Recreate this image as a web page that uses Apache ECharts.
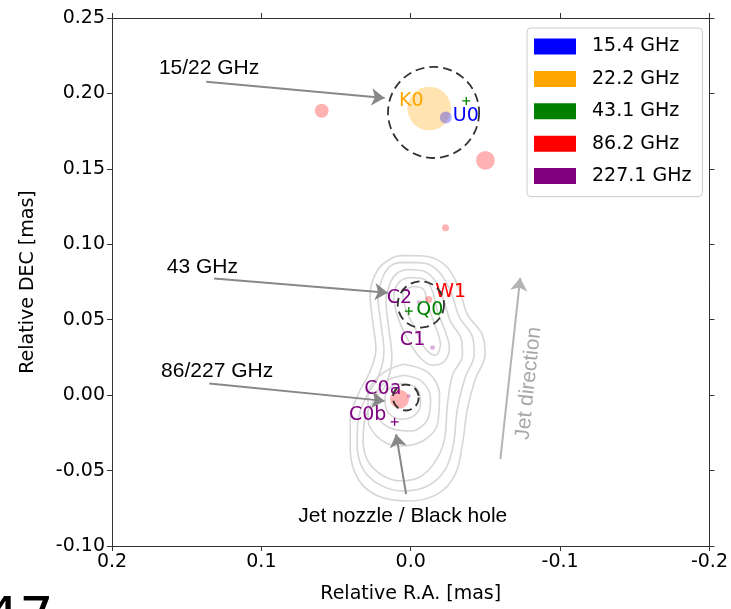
<!DOCTYPE html>
<html><head><meta charset="utf-8">
<script src="https://cdn.jsdelivr.net/npm/echarts@6/dist/echarts.min.js"></script>
<style>html,body{margin:0;padding:0;background:#fff}#c{width:731px;height:609px}</style>
</head><body><div id="c"></div>
<script>
// ---------------- data ----------------
const xTickLabels = ['0.2', '0.1', '0.0', '-0.1', '-0.2'];
const yTickLabels = ['-0.10', '-0.05', '0.00', '0.05', '0.10', '0.15', '0.20', '0.25'];

const freqNames = ['15.4 GHz', '22.2 GHz', '43.1 GHz', '86.2 GHz', '227.1 GHz'];
const freqColors = ['#0000ff', '#ffa500', '#008000', '#ff0000', '#800080'];

// [RA (mas), DEC (mas), component diameter (mas)]
const comp15 = [[-0.0235, 0.184, 0.008]];
const comp15Names = ['U0'];
const comp22 = [[-0.0124, 0.190, 0.0292]];
const comp22Names = ['K0'];
const comp43 = [[-0.0372, 0.195], [0.0013, 0.0557]];
const comp43Names = ['', 'Q0'];
const comp86 = [[0.0596, 0.1885, 0.0093], [-0.050, 0.1556, 0.0126], [-0.0233, 0.111, 0.0047], [-0.012, 0.0634, 0.0047], [0.0075, -0.0027, 0.0126]];
const comp86Names = ['', '', '', 'W1', ''];
const comp227 = [[-0.0058, 0.0613, 0.0033], [-0.0146, 0.0315, 0.0033], [0.0013, -0.0005, 0.0027]];
const comp227Names = ['C2', 'C1', 'C0a'];
const comp227Plus = [[0.0108, -0.0177]];
const comp227PlusNames = ['C0b'];

// dashed regions: [RA, DEC, diameter (mas)]
const regions = [[-0.0153, 0.1874, 0.061], [-0.0068, 0.0601, 0.031], [0.0033, -0.0016, 0.0173]];

// annotations
const annotTexts = ['15/22 GHz', '43 GHz', '86/227 GHz', 'Jet nozzle / Black hole'];
const annotAt = [[0.135, 0.2164], [0.1395, 0.0846], [0.1296, 0.0158], [0.0053, -0.0801]];
const annotArrows = [
  [[0.1369, 0.2077], [0.0175, 0.1969]],
  [[0.1316, 0.0773], [0.0153, 0.0679]],
  [[0.1349, 0.0077], [0.0175, -0.0038]],
  [[0.0031, -0.0656], [0.0098, -0.0259]]
];
const jetText = 'Jet direction';
const jetTextAt = [-0.079, 0.0079];
const jetArrow = [[-0.060, -0.0424], [-0.0733, 0.0778]];
const cornerText = '47';

// contour lines (RA, DEC in mas)
const contourA = [[0.005,0.0926],[-0.0113,0.0919],[-0.0246,0.0846],[-0.0326,0.070],[-0.0379,0.0535],[-0.0478,0.0403],[-0.0498,0.0270],[-0.0432,0.0105],[-0.0379,-0.0094],[-0.0346,-0.0325],[-0.0299,-0.0523],[-0.0179,-0.0656],[0.002,-0.0702],[0.0219,-0.0669],[0.0352,-0.0556],[0.0405,-0.0357],[0.0405,-0.0159],[0.0352,0.0006],[0.0272,0.0158],[0.0233,0.0304],[0.0252,0.0469],[0.0272,0.0668],[0.0219,0.0833],[0.012,0.0912],[0.005,0.0926]];
const contourB = [[0.004,0.0880],[-0.010,0.0873],[-0.0199,0.0807],[-0.0272,0.0675],[-0.0326,0.0515],[-0.0412,0.039],[-0.0425,0.027],[-0.0365,0.0119],[-0.0312,-0.0092],[-0.0286,-0.0324],[-0.0233,-0.049],[-0.0113,-0.0602],[0.0053,-0.0635],[0.0206,-0.0595],[0.0319,-0.049],[0.0359,-0.0324],[0.0352,-0.0158],[0.0299,-0.0014],[0.0219,0.0119],[0.0179,0.029],[0.0199,0.047],[0.0219,0.0648],[0.0179,0.080],[0.012,0.0866],[0.004,0.0880]];
const contourC = [[0.002,0.0833],[-0.0093,0.082],[-0.0166,0.0754],[-0.0219,0.0635],[-0.0266,0.0489],[-0.0339,0.037],[-0.0346,0.0264],[-0.0279,0.0132],[-0.0246,-0.006],[-0.0226,-0.0291],[-0.0166,-0.0437],[-0.006,-0.0543],[0.0066,-0.0569],[0.0193,-0.0529],[0.0286,-0.0437],[0.0319,-0.0304],[0.0306,-0.0158],[0.0252,-0.0040],[0.0166,0.0072],[0.0126,0.0251],[0.0146,0.0436],[0.0166,0.0621],[0.0133,0.0753],[0.0086,0.0813],[0.002,0.0833]];
const contourUp1 = [[0.0007,0.0780],[-0.0093,0.0767],[-0.0146,0.0688],[-0.0179,0.0555],[-0.0226,0.0436],[-0.0259,0.0317],[-0.0226,0.0225],[-0.0146,0.0198],[-0.006,0.0251],[0.002,0.037],[0.0086,0.0516],[0.0113,0.0661],[0.0073,0.0754],[0.0007,0.0780]];
const contourUp2 = [[-0.0013,0.0720],[-0.0086,0.0701],[-0.0113,0.0601],[-0.016,0.0469],[-0.0199,0.0337],[-0.0166,0.0264],[-0.01,0.0304],[-0.0033,0.0436],[0.0033,0.0568],[0.0053,0.0675],[-0.0013,0.0720]];
const contourLo1 = [[0.0053,0.0205],[-0.0113,0.0152],[-0.0193,0.0006],[-0.0179,-0.0192],[-0.008,-0.0304],[0.0066,-0.0337],[0.0206,-0.0291],[0.0286,-0.0158],[0.0286,0.0006],[0.0199,0.0138],[0.0053,0.0205]];
const contourLo2 = [[0.0047,0.0132],[-0.0073,0.0092],[-0.0133,-0.0027],[-0.0113,-0.016],[-0.0007,-0.0238],[0.012,-0.0225],[0.0219,-0.0146],[0.0233,-0.0014],[0.0166,0.0092],[0.0047,0.0132]];
const contourLo3 = [[0.0053,0.0079],[-0.004,0.0046],[-0.0066,-0.0047],[-0.0027,-0.0133],[0.0066,-0.016],[0.0153,-0.0113],[0.0173,-0.002],[0.0133,0.0053],[0.0053,0.0079]];
const contours = [contourA, contourB, contourC, contourUp1, contourUp2, contourLo1, contourLo2, contourLo3];

// ---------------- styles ----------------
const labelOffsets = { U0: [20, -2], K0: [-18, -7], Q0: [21, -1], W1: [22, -7], C2: [-20, -5], C1: [-20, -7.5], C0a: [-26, -7], C0b: [-27, -7] };
const FONT = 'DejaVu Sans';
const AFONT = 'Liberation Sans';
let pxPerMas = 1505;

function fmt(list, i) { return list[i]; }

function compItems(arr, names, color, extra) {
  return arr.map((v, i) => {
    const it = { value: v, name: names[i] || '' };
    if (names[i]) {
      it.label = { show: true, position: 'inside', formatter: '{b}', offset: labelOffsets[names[i]], color: color,
        fontFamily: FONT, fontSize: 19, opacity: 1 };
    }
    return Object.assign(it, extra || {});
  });
}

const plusPath = 'path://M5,0 L5,10 M0,5 L10,5';

function buildOption() {
  const series = [];
  contours.forEach((c, i) => {
    series.push({ type: 'line', data: c, smooth: 0.35, symbol: 'none', silent: true, z: 1,
      lineStyle: { color: '#d6d6d6', width: 1.6 }, animation: false });
  });
  const sizeFn = v => v[2] * pxPerMas;
  series.push({ name: '22.2 GHz', type: 'scatter', z: 2, symbolSize: sizeFn, silent: true,
    itemStyle: { color: 'rgba(255,165,0,0.3)', opacity: 1 }, data: compItems(comp22, comp22Names, freqColors[1]) });
  series.push({ name: '86.2 GHz', type: 'scatter', z: 3, symbolSize: sizeFn, silent: true,
    itemStyle: { color: 'rgba(255,0,0,0.3)', opacity: 1 }, data: compItems(comp86, comp86Names, freqColors[3]) });
  series.push({ name: '15.4 GHz', type: 'scatter', z: 4, symbolSize: sizeFn, silent: true,
    itemStyle: { color: 'rgba(0,0,255,0.3)', opacity: 1 }, data: compItems(comp15, comp15Names, freqColors[0]) });
  series.push({ name: '227.1 GHz', type: 'scatter', z: 5, symbolSize: sizeFn, silent: true,
    itemStyle: { color: 'rgba(128,0,128,0.3)', opacity: 1 },
    data: compItems(comp227, comp227Names, freqColors[4]).concat(
      compItems(comp227Plus, comp227PlusNames, freqColors[4], { symbol: plusPath, symbolSize: 8,
        itemStyle: { color: 'none', borderColor: freqColors[4], borderWidth: 1.3, opacity: 1 } })) });
  series.push({ name: '43.1 GHz', type: 'scatter', z: 6, symbol: plusPath, symbolSize: 8, silent: true,
    itemStyle: { color: 'none', borderColor: freqColors[2], borderWidth: 1.3, opacity: 1 },
    data: compItems(comp43, comp43Names, freqColors[2]) });
  series.push({ type: 'scatter', z: 7, silent: true, symbol: 'circle', symbolSize: sizeFn,
    itemStyle: { color: 'rgba(0,0,0,0)', borderColor: '#333', borderWidth: 1.8, borderType: [9, 5], opacity: 1 },
    data: regions });
  series.push({ type: 'lines', coordinateSystem: 'cartesian2d', z: 8, silent: true,
    symbol: ['none', 'arrow'], symbolSize: [9, 13],
    lineStyle: { color: '#888', width: 2, opacity: 1, curveness: 0 },
    data: annotArrows.map(a => ({ coords: a })) });
  series.push({ type: 'lines', coordinateSystem: 'cartesian2d', z: 8, silent: true,
    symbol: ['none', 'arrow'], symbolSize: [9, 13],
    lineStyle: { color: '#b4b4b4', width: 2, opacity: 1, curveness: 0 },
    data: [{ coords: jetArrow }] });
  series.push({ type: 'scatter', z: 9, silent: true, symbolSize: 0, itemStyle: { opacity: 1 },
    label: { show: true, position: 'inside', formatter: '{b}', color: '#000', fontFamily: AFONT, fontSize: 21, opacity: 1 },
    data: annotTexts.map((t, i) => ({ name: t, value: annotAt[i] })) });
  series.push({ type: 'scatter', z: 9, silent: true, symbolSize: 0, itemStyle: { opacity: 1 },
    label: { show: true, position: 'inside', formatter: '{b}', color: '#a8a8a8', fontFamily: AFONT, fontSize: 21, rotate: 84, opacity: 1 },
    data: [{ name: jetText, value: jetTextAt }] });

  const axisCommon = { type: 'value', splitLine: { show: false },
    axisLine: { show: true, onZero: false, lineStyle: { color: '#333', width: 1 } },
    axisTick: { show: true, length: 5, lineStyle: { color: '#333' } } };
  return {
    animation: false,
    backgroundColor: '#fff',
    grid: { left: 112, top: 18, right: 17, bottom: 62, containLabel: false },
    legend: {
      orient: 'vertical', left: 527, top: 28, selectedMode: false,
      data: freqNames.map((n, i) => ({ name: n, icon: 'rect', itemStyle: { color: freqColors[i], opacity: 1, borderWidth: 0 } })),
      itemWidth: 42, itemHeight: 16, itemGap: 13.4,
      padding: [9, 11, 11, 7], borderColor: '#cccccc', borderWidth: 1, borderRadius: 4,
      backgroundColor: 'rgba(255,255,255,0.8)',
      textStyle: { fontFamily: FONT, fontSize: 19, color: '#000', lineHeight: 16, padding: [0, 0, 0, 11] }
    },
    xAxis: [
      Object.assign({}, axisCommon, { position: 'bottom', min: -0.2, max: 0.2, interval: 0.1, inverse: true,
        name: 'Relative R.A. [mas]', nameLocation: 'middle', nameGap: 39,
        nameTextStyle: { fontFamily: FONT, fontSize: 19, color: '#000' },
        axisLabel: { margin: 7, fontFamily: FONT, fontSize: 19, color: '#000',
          formatter: v => fmt(xTickLabels, Math.round((0.2 - v) / 0.1)) } }),
      Object.assign({}, axisCommon, { position: 'top', min: -0.2, max: 0.2, interval: 0.1, inverse: true,
        axisLabel: { show: false } })
    ],
    yAxis: [
      Object.assign({}, axisCommon, { position: 'left', min: -0.10, max: 0.25, interval: 0.05,
        name: 'Relative DEC [mas]', nameLocation: 'middle', nameGap: 74, nameRotate: 90,
        nameTextStyle: { fontFamily: FONT, fontSize: 19, color: '#000' },
        axisLabel: { margin: 7, fontFamily: FONT, fontSize: 19, color: '#000',
          formatter: v => fmt(yTickLabels, Math.round((v + 0.10) / 0.05)) } }),
      Object.assign({}, axisCommon, { position: 'right', min: -0.10, max: 0.25, interval: 0.05,
        axisLabel: { show: false } })
    ],
    graphic: [{ type: 'text', left: -15, top: 594, silent: true,
      style: { text: cornerText, fontFamily: FONT, fontSize: 54, fontWeight: 'normal', fill: '#000' } }],
    series: series
  };
}

const chart = echarts.init(document.getElementById('c'), null, { renderer: 'canvas' });
chart.setOption(buildOption());
const p0 = chart.convertToPixel({ xAxisIndex: 0 }, 0);
const p1 = chart.convertToPixel({ xAxisIndex: 0 }, 0.1);
if (isFinite(p0) && isFinite(p1)) pxPerMas = Math.abs(p0 - p1) / 0.1;
chart.setOption(buildOption(), true);
</script></body></html>
